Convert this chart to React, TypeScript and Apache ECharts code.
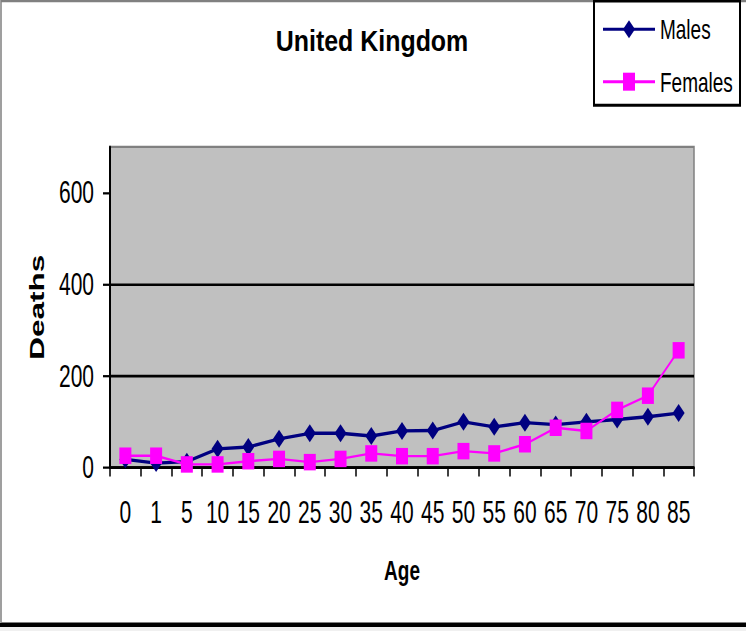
import React, { useEffect, useRef } from "react";
import * as echarts from "echarts";

const ages = ["0", "1", "5", "10", "15", "20", "25", "30", "35", "40", "45", "50", "55", "60", "65", "70", "75", "80", "85"];
const males = [18, 10, 13, 41, 45, 63, 75, 75, 69, 80, 81, 100, 89, 98, 94, 100, 105, 111, 119];
const females = [26, 26, 7, 7, 14, 19, 12, 19, 31, 25, 25, 36, 31, 51, 87, 80, 126, 157, 256];
const yTicks = [0, 200, 400, 600];

const W = 746;
const H = 421;
const S = 631 / H;
const FONT = '"Liberation Sans", Arial, sans-serif';

export default function App() {
  const ref = useRef<HTMLDivElement>(null);
  useEffect(() => {
    if (!ref.current) return;
    const chart = echarts.init(ref.current, undefined, { renderer: "svg", width: W, height: H });
    chart.setOption({
      animation: false,
      backgroundColor: "#ffffff",
      textStyle: { fontFamily: FONT, color: "#000" },
      grid: {
        left: 110,
        right: 52,
        top: 98,
        bottom: 109,
        show: true,
        backgroundColor: "#c0c0c0",
        borderColor: "#808080",
        borderWidth: 1.5,
      },
      legend: {
        orient: "vertical",
        left: 602,
        top: 10,
        itemWidth: 52,
        itemHeight: 15,
        itemGap: 16,
        padding: 0,
        textStyle: { fontSize: 19, color: "#000", fontFamily: FONT },
        data: ["Males", "Females"],
      },
      xAxis: {
        type: "category",
        data: ages,
        boundaryGap: true,
        name: "Age",
        nameLocation: "middle",
        nameGap: 59,
        nameTextStyle: { fontSize: 19, fontWeight: "bold", color: "#000", fontFamily: FONT },
        axisLine: { lineStyle: { color: "#000", width: 1.8 } },
        axisTick: { show: true, length: 6, alignWithLabel: false, lineStyle: { color: "#000", width: 1.5 } },
        axisLabel: { interval: 0, fontSize: 21, color: "#000", margin: 19.5, fontFamily: FONT },
        splitLine: { show: false },
      },
      yAxis: {
        type: "value",
        min: 0,
        max: 700,
        interval: 200,
        name: "Deaths",
        nameLocation: "middle",
        nameGap: 63,
        nameTextStyle: { fontSize: 21, fontWeight: "bold", color: "#000", fontFamily: FONT },
        axisLine: { show: true, lineStyle: { color: "#000", width: 2 } },
        axisTick: { show: true, length: 7, customValues: yTicks, lineStyle: { color: "#000", width: 1.5 } },
        axisLabel: { fontSize: 21, color: "#000", margin: 16, customValues: yTicks, fontFamily: FONT },
        splitLine: { show: true, showMaxLine: false, lineStyle: { color: "#000", width: 1.8 } },
      },
      series: [
        {
          name: "Males",
          type: "line",
          data: males,
          symbol: "diamond",
          symbolSize: 12,
          clip: false,
          itemStyle: { color: "#000080" },
          lineStyle: { color: "#000080", width: 2.2 },
        },
        {
          name: "Females",
          type: "line",
          data: females,
          symbol: "rect",
          symbolSize: [12, 11],
          clip: false,
          itemStyle: { color: "#ff00ff" },
          lineStyle: { color: "#ff00ff", width: 1.6 },
        },
      ],
      graphic: [
        {
          type: "rect",
          silent: true,
          z: -10,
          shape: { x: 1, y: 0.7, width: W + 10, height: 623 / S - 0.7 },
          style: { fill: "none", stroke: "#808080", lineWidth: 1.5 },
        },
        {
          type: "rect",
          silent: true,
          shape: { x: 0, y: 623 / S, width: W, height: 4 / S },
          style: { fill: "#000" },
        },
        {
          type: "rect",
          silent: true,
          shape: { x: 0, y: 627 / S, width: W, height: 4 / S + 1 },
          style: { fill: "#f0f0f0" },
        },
        {
          type: "rect",
          silent: true,
          z: -5,
          shape: { x: 594, y: 0.7, width: 146, height: 69.5 },
          style: { fill: "#fff", stroke: "#000", lineWidth: 2 },
        },
        {
          type: "text",
          silent: true,
          x: 372,
          y: 27.5,
          scaleX: 1.28,
          style: {
            text: "United Kingdom",
            font: 'bold 19.5px "Liberation Sans", Arial, sans-serif',
            fill: "#000",
            align: "center",
            verticalAlign: "middle",
          },
        },
      ],
    });
    return () => chart.dispose();
  }, []);

  return (
    <div style={{ position: "fixed", left: 0, top: 0, width: W, height: 631, overflow: "hidden", background: "#fff" }}>
      <div
        ref={ref}
        style={{ width: W, height: H, transform: `scaleY(${S})`, transformOrigin: "0 0" }}
      />
    </div>
  );
}
